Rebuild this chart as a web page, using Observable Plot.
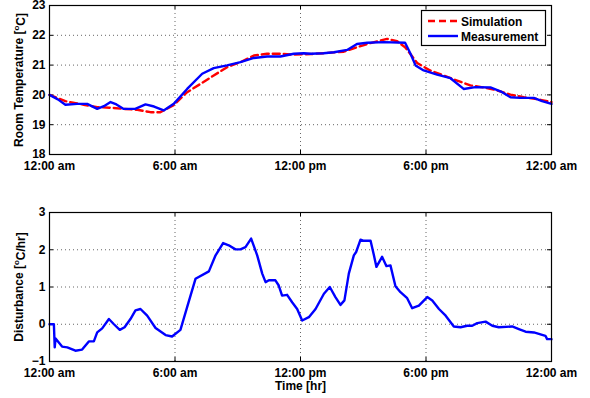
<!DOCTYPE html>
<html><head><meta charset="utf-8">
<script src="https://cdn.jsdelivr.net/npm/d3@7"></script>
<script src="https://cdn.jsdelivr.net/npm/@observablehq/plot@0.6"></script>
<style>body{margin:0;background:#fff} #chart svg{display:block}</style>
</head><body><div id="chart"></div>
<script>
const xTickHours = [0, 6, 12, 18, 24];
const xTickLabels = ["12:00 am", "6:00 am", "12:00 pm", "6:00 pm", "12:00 am"];
const tempTicks = [18, 19, 20, 21, 22, 23];
const distTicks = [-1, 0, 1, 2, 3];

const simHours = [0,0.76,1.64,2.28,2.92,3.55,4.2,4.83,5.3,5.94,6.58,7.22,7.85,8.49,9.13,9.77,10.4,11.04,11.68,12.5,13.1,14.07,14.7,15.35,16.14,16.62,17.0,17.58,18.2,18.85,19.49,20.12,20.76,21.4,22.04,22.67,23.3,24];
const simTemp = [20.0,19.79,19.67,19.59,19.57,19.53,19.5,19.42,19.42,19.66,20.09,20.37,20.65,20.93,21.1,21.32,21.38,21.38,21.35,21.37,21.4,21.45,21.6,21.74,21.88,21.8,21.6,21.07,20.82,20.65,20.48,20.32,20.25,20.15,20.01,19.92,19.86,19.76];

const measHours = [0,0.4,0.76,1.32,1.8,2.28,2.6,2.92,3.2,3.55,4.1,4.59,5.0,5.46,5.94,6.58,7.3,7.85,8.49,9.13,9.77,10.4,11.04,11.68,12.16,12.48,13.1,13.6,14.23,14.7,15.19,15.98,17.0,17.26,17.5,17.89,18.53,19.17,19.8,20.36,21.08,21.56,22.04,22.5,23.15,23.55,24];
const measTemp = [20.0,19.85,19.67,19.7,19.7,19.53,19.62,19.76,19.68,19.53,19.53,19.68,19.61,19.48,19.7,20.2,20.71,20.9,20.99,21.1,21.24,21.29,21.29,21.38,21.4,21.38,21.4,21.43,21.51,21.71,21.75,21.77,21.75,21.38,20.99,20.82,20.68,20.56,20.2,20.26,20.25,20.12,19.92,19.9,19.9,19.79,19.7];

const distHours = [0,0.21,0.25,0.29,0.6,0.85,1.24,1.56,1.88,2.12,2.28,2.52,2.84,3.08,3.36,3.59,3.87,4.11,4.35,4.67,5.07,5.55,5.86,6.26,6.58,6.98,7.62,7.94,8.3,8.57,8.89,9.13,9.37,9.64,9.93,10.17,10.33,10.49,10.8,10.96,11.12,11.36,11.6,11.84,12.08,12.4,12.72,13.12,13.4,13.67,13.91,14.1,14.31,14.55,14.66,14.87,15.03,15.35,15.51,15.63,15.9,16.11,16.3,16.54,16.78,17.1,17.34,17.66,18.06,18.3,18.62,18.94,19.33,19.65,19.97,20.21,20.45,20.85,21.17,21.48,22.12,22.44,22.76,23.16,23.71,23.79,24];
const distValues = [0,0,-0.62,-0.38,-0.6,-0.62,-0.71,-0.68,-0.46,-0.46,-0.22,-0.11,0.14,0.0,-0.15,-0.08,0.14,0.37,0.41,0.23,-0.1,-0.29,-0.33,-0.15,0.46,1.22,1.42,1.85,2.18,2.12,2.01,2.01,2.07,2.3,1.85,1.36,1.13,1.18,1.18,1.04,0.77,0.79,0.59,0.41,0.1,0.19,0.41,0.82,1.0,0.73,0.52,0.64,1.36,1.85,1.94,2.27,2.24,2.24,1.85,1.54,1.81,1.56,1.58,1.02,0.86,0.7,0.43,0.5,0.73,0.64,0.41,0.23,-0.06,-0.08,-0.04,-0.04,0.03,0.07,-0.04,-0.08,-0.06,-0.13,-0.2,-0.22,-0.31,-0.4,-0.4];

const simData = simHours.map((h, i) => ({h, v: simTemp[i]}));
const measData = measHours.map((h, i) => ({h, v: measTemp[i]}));
const distData = distHours.map((h, i) => ({h, v: distValues[i]}));

const font = "'Liberation Sans', Arial, Helvetica, sans-serif";
const style = {fontFamily: font, fontWeight: "bold", fontSize: "12px", background: "white", color: "black", overflow: "visible"};
const grid = {stroke: "#666", strokeOpacity: 1, strokeDasharray: "1,3", strokeWidth: 1};
const W = 590, ML = 49, MR = 39;
const PW = W - ML - MR;
const LW = 2.4;
const fmtX = d => xTickLabels[xTickHours.indexOf(d)];

function frameMarks(yTicks, yGrid, ph) {
  return [
    Plot.gridX(xTickHours.slice(1, -1), grid),
    Plot.gridY(yGrid, grid),
    Plot.tickX(xTickHours, {x: d => d, stroke: "black", insetTop: ph - 4}),
    Plot.tickX(xTickHours, {x: d => d, stroke: "black", insetBottom: ph - 4}),
    Plot.tickY(yTicks, {y: d => d, stroke: "black", insetRight: PW - 4}),
    Plot.tickY(yTicks, {y: d => d, stroke: "black", insetLeft: PW - 4}),
  ];
}

function superLabel(svg, sel, before, after) {
  const t = d3.select(svg).select(sel);
  t.text("");
  t.append("tspan").text(before);
  t.append("tspan").attr("dy", "-0.45em").attr("font-size", "8px").text("o");
  t.append("tspan").attr("dy", "0.45em").text(after);
}

// Top chart
const topH = 190, topMT = 5, topMB = 36;
const topPlot = Plot.plot({
  width: W, height: topH, marginTop: topMT, marginBottom: topMB, marginLeft: ML, marginRight: MR,
  style,
  x: {domain: [0, 24]},
  y: {domain: [18, 23]},
  marks: [
    ...frameMarks(tempTicks, [19, 20, 21, 22], topH - topMT - topMB),
    Plot.axisX(xTickHours, {tickFormat: fmtX, tickSize: 0, tickPadding: 7, label: null}),
    Plot.axisY(tempTicks, {tickSize: 0, tickPadding: 4, label: "Room Temperature [oC]", labelAnchor: "center", labelArrow: "none", labelOffset: 35}),
    Plot.line(simData, {x: "h", y: "v", stroke: "#ff0000", strokeWidth: LW, strokeDasharray: "7,4"}),
    Plot.line(measData, {x: "h", y: "v", stroke: "#0000ff", strokeWidth: LW}),
    Plot.frame({stroke: "black", strokeWidth: 1.2})
  ]
});
superLabel(topPlot, 'g[aria-label="y-axis label"] text', "Room Temperature [", "C]");

// legend
const lg = d3.select(topPlot).append("g").attr("font-family", font).attr("font-weight", "bold").attr("font-size", 12).attr("text-anchor", "start");
lg.append("rect").attr("x", 421.5).attr("y", 10.5).attr("width", 124).attr("height", 35).attr("fill", "white").attr("stroke", "black").attr("stroke-width", 1.2);
const legendItems = [
  {name: "Simulation", color: "#ff0000", dash: "7,4"},
  {name: "Measurement", color: "#0000ff", dash: null}
];
legendItems.forEach((it, i) => {
  const y = 21 + i * 15;
  lg.append("line").attr("x1", 428).attr("x2", 458).attr("y1", y).attr("y2", y)
    .attr("stroke", it.color).attr("stroke-width", LW).attr("stroke-dasharray", it.dash);
  lg.append("text").attr("x", 461).attr("y", y + 4.5).attr("fill", "black").attr("text-anchor", "start").text(it.name);
});

// Bottom chart
const botH = 208, botMT = 22, botMB = 37;
const botPlot = Plot.plot({
  width: W, height: botH, marginTop: botMT, marginBottom: botMB, marginLeft: ML, marginRight: MR,
  style,
  x: {domain: [0, 24]},
  y: {domain: [-1, 3]},
  marks: [
    ...frameMarks(distTicks, [0, 1, 2], botH - botMT - botMB),
    Plot.axisX(xTickHours, {tickFormat: fmtX, tickSize: 0, tickPadding: 7, label: "Time [hr]", labelAnchor: "center", labelArrow: "none", labelOffset: 28}),
    Plot.axisY(distTicks, {tickSize: 0, tickPadding: 4, label: "Disturbance [oC/hr]", labelAnchor: "center", labelArrow: "none", labelOffset: 35}),
    Plot.line(distData, {x: "h", y: "v", stroke: "#0000ff", strokeWidth: LW}),
    Plot.frame({stroke: "black", strokeWidth: 1.2})
  ]
});
superLabel(botPlot, 'g[aria-label="y-axis label"] text', "Disturbance [", "C/hr]");

document.getElementById("chart").append(topPlot, botPlot);
</script>
</body></html>
